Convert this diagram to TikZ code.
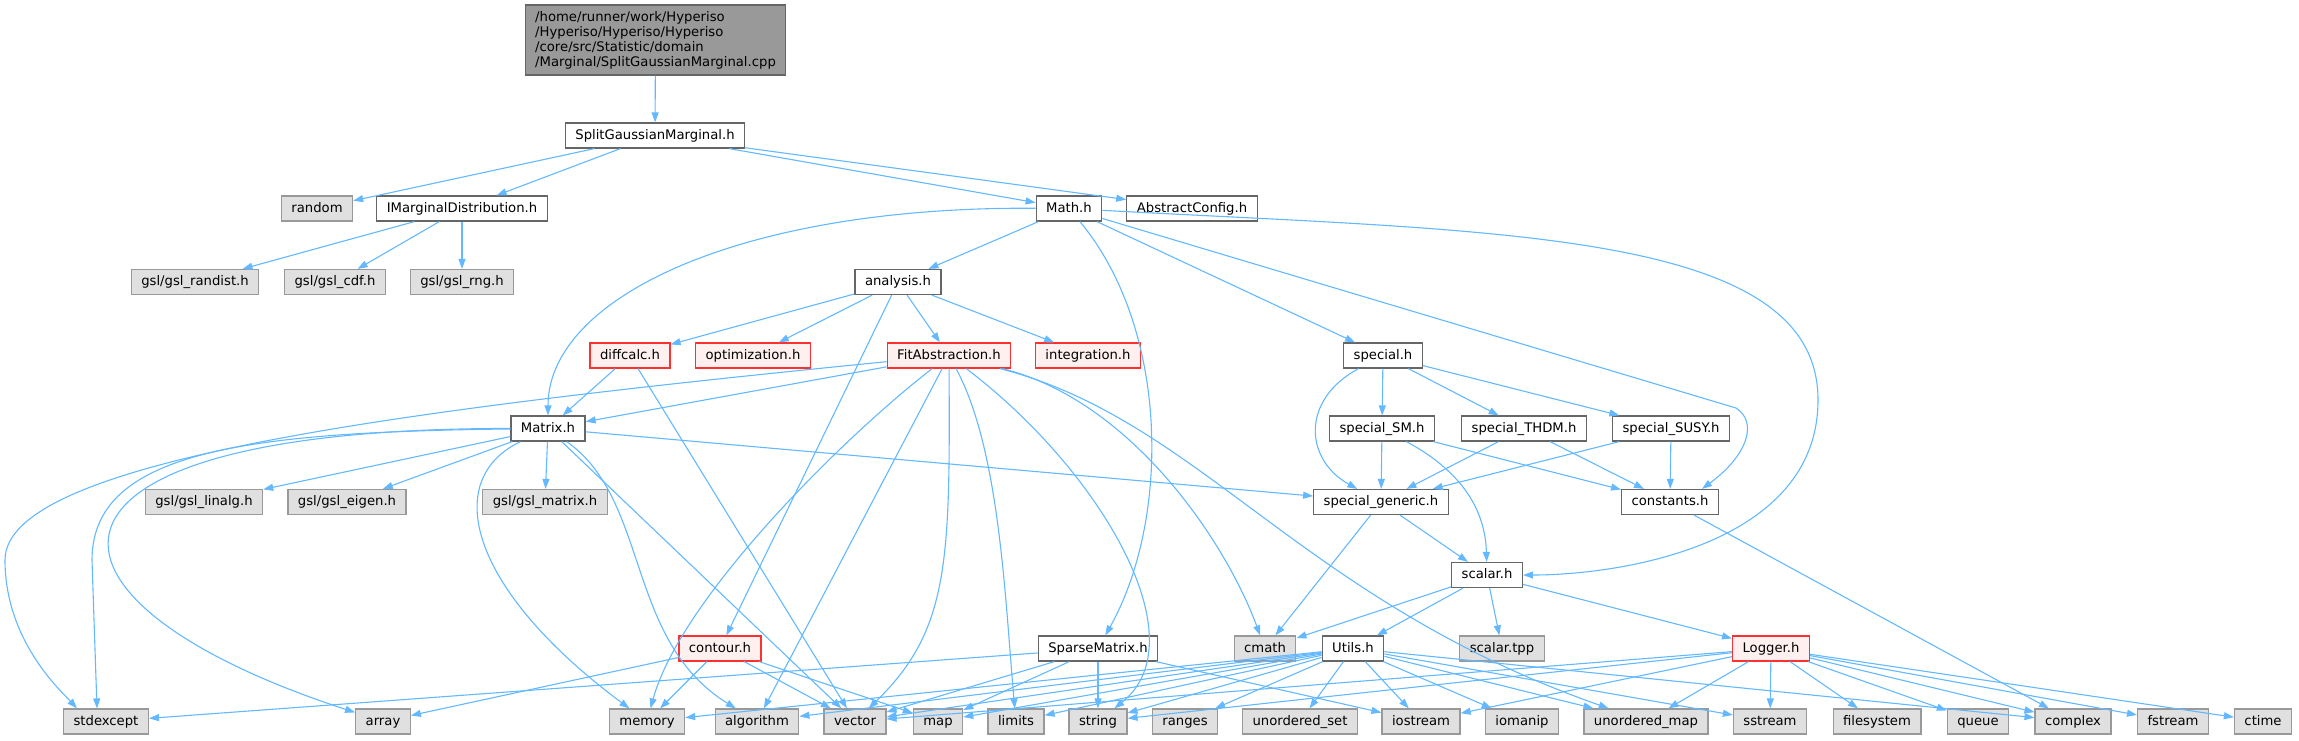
\documentclass[tikz,border=0pt]{standalone}
\usepackage{fontspec}
\newfontfamily\graphfont{DejaVu Sans}
\usetikzlibrary{arrows.meta}
\definecolor{edgeblue}{HTML}{63B8FF}
\definecolor{sysfill}{HTML}{E0E0E0}
\definecolor{sysline}{HTML}{999999}
\definecolor{hdrline}{HTML}{666666}
\definecolor{rootfill}{HTML}{999999}
\definecolor{redfill}{HTML}{FFF0F0}
\definecolor{redline}{HTML}{FF3030}
\begin{document}
\begin{tikzpicture}[x=1pt,y=-1pt,
    box/.style={draw=hdrline,fill=white,line width=1.2pt,minimum height=25pt,inner xsep=10pt,inner ysep=0pt,
        text height=10pt,text depth=3pt,font=\graphfont\fontsize{13.2}{15}\selectfont},
    sys/.style={box,draw=sysline,fill=sysfill},
    trunc/.style={box,draw=redline,fill=redfill},
    root/.style={draw=hdrline,fill=rootfill,line width=1.2pt,minimum height=70pt,inner xsep=10pt,inner ysep=4pt,
        align=left,font=\graphfont\fontsize{13.2}{15}\selectfont},
    inc/.style={-{Triangle[length=10pt,width=7pt]},draw=edgeblue,line width=1.1pt}]
            \useasboundingbox (0,0) rectangle (2299,740);
            \node [root] (cpp) at (655.5,40) {/home/runner/work/Hyperiso\\/Hyperiso/Hyperiso/Hyperiso\\/core/src/Statistic/domain\\/Marginal/SplitGaussianMarginal.cpp};
            \node [box] (sgm) at (655,135.5) {SplitGaussianMarginal.h};
            \node [sys] (random) at (317,208.5) {random};
            \node [box] (imd) at (462,208.5) {IMarginalDistribution.h};
            \node [box] (math) at (1069,208.5) {Math.h};
            \node [box] (absconfig) at (1192,208.5) {AbstractConfig.h};
            \node [sys] (gslrandist) at (195,282) {gsl/gsl\_randist.h};
            \node [sys] (gslcdf) at (335,282) {gsl/gsl\_cdf.h};
            \node [sys] (gslrng) at (462,282) {gsl/gsl\_rng.h};
            \node [box] (analysis) at (898,282) {analysis.h};
            \node [trunc] (diffcalc) at (630,355.5) {diffcalc.h};
            \node [trunc] (optim) at (753,355.5) {optimization.h};
            \node [trunc] (fit) at (949,355.5) {FitAbstraction.h};
            \node [trunc] (integ) at (1088,355.5) {integration.h};
            \node [box] (special) at (1383,355.5) {special.h};
            \node [box] (matrix) at (548,428.5) {Matrix.h};
            \node [box] (specsm) at (1382,428.5) {special\_SM.h};
            \node [box] (specthdm) at (1524,428.5) {special\_THDM.h};
            \node [box] (specsusy) at (1671,428.5) {special\_SUSY.h};
            \node [sys] (gsllinalg) at (204,502) {gsl/gsl\_linalg.h};
            \node [sys] (gsleigen) at (347,502) {gsl/gsl\_eigen.h};
            \node [sys] (gslmatrix) at (545,502) {gsl/gsl\_matrix.h};
            \node [box] (specgen) at (1381,502) {special\_generic.h};
            \node [box] (constants) at (1670,502) {constants.h};
            \node [box] (scalar) at (1487,575) {scalar.h};
            \node [trunc] (contour) at (720,648.5) {contour.h};
            \node [box] (sparse) at (1098,648.5) {SparseMatrix.h};
            \node [sys] (cmath) at (1265,648.5) {cmath};
            \node [box] (utils) at (1353,648.5) {Utils.h};
            \node [sys] (scalartpp) at (1502,648.5) {scalar.tpp};
            \node [trunc] (logger) at (1771,648.5) {Logger.h};
            \node [sys] (stdexcept) at (106,721.5) {stdexcept};
            \node [sys] (array) at (383,721.5) {array};
            \node [sys] (memory) at (647,721.5) {memory};
            \node [sys] (algorithm) at (757,721.5) {algorithm};
            \node [sys] (vector) at (855,721.5) {vector};
            \node [sys] (map) at (938,721.5) {map};
            \node [sys] (limits) at (1016,721.5) {limits};
            \node [sys] (string) at (1098,721.5) {string};
            \node [sys] (ranges) at (1185,721.5) {ranges};
            \node [sys] (unordset) at (1300,721.5) {unordered\_set};
            \node [sys] (iostream) at (1421,721.5) {iostream};
            \node [sys] (iomanip) at (1522,721.5) {iomanip};
            \node [sys] (unordmap) at (1646,721.5) {unordered\_map};
            \node [sys] (sstream) at (1770,721.5) {sstream};
            \node [sys] (filesystem) at (1877,721.5) {filesystem};
            \node [sys] (queue) at (1978,721.5) {queue};
            \node [sys] (complex) at (2073,721.5) {complex};
            \node [sys] (fstream) at (2173,721.5) {fstream};
            \node [sys] (ctime) at (2263,721.5) {ctime};
            \draw [inc] (cpp) -- (sgm);
            \draw [inc] (sgm) -- (random);
            \draw [inc] (sgm) -- (imd);
            \draw [inc] (sgm) -- (math);
            \draw [inc] (sgm) -- (absconfig);
            \draw [inc] (imd) -- (gslrandist);
            \draw [inc] (imd) -- (gslcdf);
            \draw [inc] (imd) -- (gslrng);
            \draw [inc] (math) -- (analysis);
            \draw [inc] (math) -- (special);
            \draw [inc] (math) .. controls (739,206) and (548,298) .. (matrix);
            \draw [inc] (math) .. controls (1170,330) and (1170,520) .. (sparse);
            \draw [inc] (math) -- (1736,408) .. controls (1758,422) and (1748,455) .. ([xshift=32pt]constants.north);
            \draw [inc] (math) .. controls (1500,232) and (1818,230) .. (1818,400) .. controls (1818,545) and (1620,575) .. (scalar);
            \draw [inc] (analysis) -- (diffcalc);
            \draw [inc] (analysis) -- (optim);
            \draw [inc] (analysis) -- (fit);
            \draw [inc] (analysis) -- (integ);
            \draw [inc] (analysis) -- (contour);
            \draw [inc] (diffcalc) -- (matrix);
            \draw [inc] (diffcalc) -- (vector);
            \draw [inc] (fit) -- (matrix);
            \draw [inc] (fit) .. controls (840,440) and (680,600) .. (memory);
            \draw [inc] (fit) -- (algorithm);
            \draw [inc] (fit) .. controls (400,410) and (5,460) .. (5,560) .. controls (5,640) and (60,690) .. ([xshift=-29pt]stdexcept.north);
            \draw [inc] (fit) .. controls (950,560) and (950,630) .. (vector);
            \draw [inc] (fit) .. controls (1000,450) and (1005,600) .. (limits);
            \draw [inc] (fit) .. controls (1100,470) and (1200,640) .. (string);
            \draw [inc] (fit) .. controls (1130,400) and (1225,540) .. (cmath);
            \draw [inc] (fit) .. controls (1200,420) and (1300,600) .. (unordmap);
            \draw [inc] (matrix) -- (gsllinalg);
            \draw [inc] (matrix) -- (gsleigen);
            \draw [inc] (matrix) -- (gslmatrix);
            \draw [inc] (matrix) -- (vector);
            \draw [inc] (matrix) -- (specgen);
            \draw [inc] (matrix) .. controls (250,432) and (92,450) .. (92,560) -- ([xshift=-9pt]stdexcept.north);
            \draw [inc] (matrix) .. controls (0,428) and (10,600) .. (array);
            \draw [inc] (matrix) .. controls (440,480) and (470,590) .. (memory);
            \draw [inc] (matrix) .. controls (650,500) and (625,640) .. (algorithm);
            \draw [inc] (special) -- (specsm);
            \draw [inc] (special) -- (specthdm);
            \draw [inc] (special) -- (specsusy);
            \draw [inc] (special) .. controls (1300,400) and (1305,460) .. (specgen);
            \draw [inc] (specsm) -- (specgen);
            \draw [inc] (specsm) -- (constants);
            \draw [inc] (specsm) .. controls (1450,465) and (1485,500) .. (scalar);
            \draw [inc] (specthdm) -- (specgen);
            \draw [inc] (specthdm) -- (constants);
            \draw [inc] (specsusy) -- (specgen);
            \draw [inc] (specsusy) -- (constants);
            \draw [inc] (specgen) -- (cmath);
            \draw [inc] (specgen) -- (scalar);
            \draw [inc] (constants) -- (complex);
            \draw [inc] (scalar) -- (cmath);
            \draw [inc] (scalar) -- (utils);
            \draw [inc] (scalar) -- (scalartpp);
            \draw [inc] (scalar) -- (logger);
            \draw [inc] (contour) -- (array);
            \draw [inc] (contour) -- (memory);
            \draw [inc] (contour) -- (vector);
            \draw [inc] (contour) -- (map);
            \draw [inc] (sparse) -- (stdexcept);
            \draw [inc] (sparse) -- (vector);
            \draw [inc] (sparse) -- (map);
            \draw [inc] (sparse) -- (string);
            \draw [inc] (sparse) -- (iostream);
            \draw [inc] (utils) -- (memory);
            \draw [inc] (utils) -- (algorithm);
            \draw [inc] (utils) -- (vector);
            \draw [inc] (utils) -- (map);
            \draw [inc] (utils) -- (limits);
            \draw [inc] (utils) -- (string);
            \draw [inc] (utils) -- (ranges);
            \draw [inc] (utils) -- (unordset);
            \draw [inc] (utils) -- (iostream);
            \draw [inc] (utils) -- (iomanip);
            \draw [inc] (utils) -- (unordmap);
            \draw [inc] (utils) -- (sstream);
            \draw [inc] (utils) -- (complex);
            \draw [inc] (logger) -- (vector);
            \draw [inc] (logger) -- (string);
            \draw [inc] (logger) -- (iostream);
            \draw [inc] (logger) -- (unordmap);
            \draw [inc] (logger) -- (sstream);
            \draw [inc] (logger) -- (filesystem);
            \draw [inc] (logger) -- (queue);
            \draw [inc] (logger) -- (complex);
            \draw [inc] (logger) -- (fstream);
            \draw [inc] (logger) -- (ctime);
        \end{tikzpicture}
\end{document}
